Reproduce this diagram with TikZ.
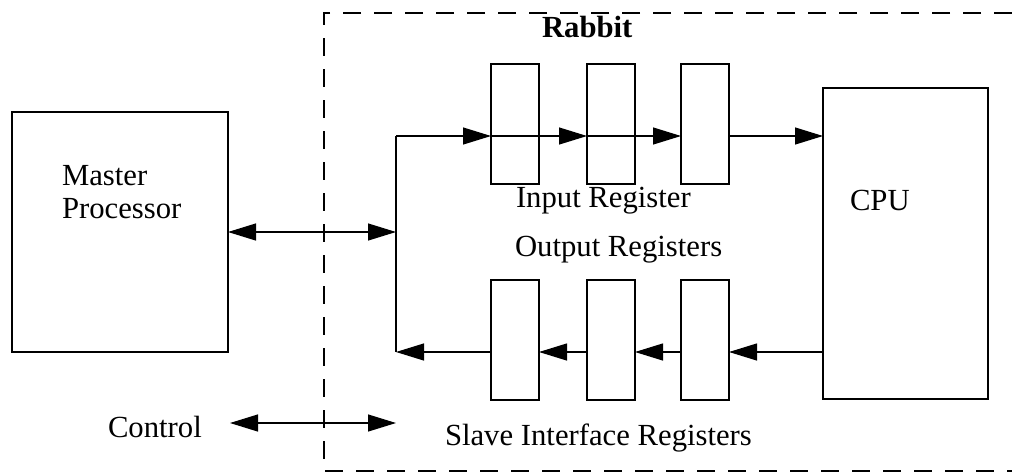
\documentclass[tikz,border=0pt]{standalone}
\usepackage{fontspec}
\setmainfont{Liberation Serif}
\usetikzlibrary{arrows.meta}
\begin{document}
\begin{tikzpicture}[x=1pt,y=-1pt,line width=1.2pt,
  >={Triangle[length=28pt,width=17pt]},
  box/.style={draw,inner sep=0pt,outer sep=0pt,anchor=north west},
  reg/.style={box,minimum width=48pt,minimum height=120pt},
  lbl/.style={inner sep=0pt,outer sep=0pt,anchor=base west,font=\fontsize{30.7}{35}\selectfont},
  border/.style={dash pattern=on 18pt off 13pt}]
\useasboundingbox (0,0) rectangle (1012,472);
% dashed Rabbit boundary
\draw[border] (1012,13) -- (324,13) -- (324,471) -- (1012,471);
% boxes
\node[box,minimum width=216pt,minimum height=240pt] (master) at (12,112) {};
\node[box,minimum width=165pt,minimum height=311pt] (cpu) at (823,88) {};
\node[reg] (i1) at (491,64) {};
\node[reg] (i2) at (587,64) {};
\node[reg] (i3) at (681,64) {};
\node[reg] (o1) at (491,280) {};
\node[reg] (o2) at (587,280) {};
\node[reg] (o3) at (681,280) {};
% labels
\node[lbl] (t1) at (62,185) {Master};
\node[lbl] (t2) at (62,218) {Processor};
\node[lbl,font=\fontsize{30.7}{35}\selectfont\bfseries] (rab) at (542,37) {Rabbit};
\node[lbl] (inl) at (516,207) {Input Register};
\node[lbl] (outl) at (515,256) {Output Registers};
\node[lbl] (cpul) at (850,210) {CPU};
\node[lbl] (ctl) at (108,437) {Control};
\node[lbl] (sir) at (445,445) {Slave Interface Registers};
% bus
\coordinate (bt) at (396,136);
\coordinate (bm) at (396,232);
\coordinate (bb) at (396,352);
\coordinate (cl) at (230,423);
\coordinate (cr) at (396,423);
\draw[<->] (master.east |- bm) -- (bm);
\draw (bt) -- (bb);
\draw[->] (bt) -- (i1.west |- bt);
\draw[->] (i1.west |- bt) -- (i2.west |- bt);
\draw[->] (i2.west |- bt) -- (i3.west |- bt);
\draw[->] (i3.east |- bt) -- (cpu.west |- bt);
\draw[->] (cpu.west |- bb) -- (o3.east |- bb);
\draw[->] (o3.west |- bb) -- (o2.east |- bb);
\draw[->] (o2.west |- bb) -- (o1.east |- bb);
\draw[->] (o1.west |- bb) -- (bb);
\draw[<->] (cl) -- (cr);
\end{tikzpicture}
\end{document}
